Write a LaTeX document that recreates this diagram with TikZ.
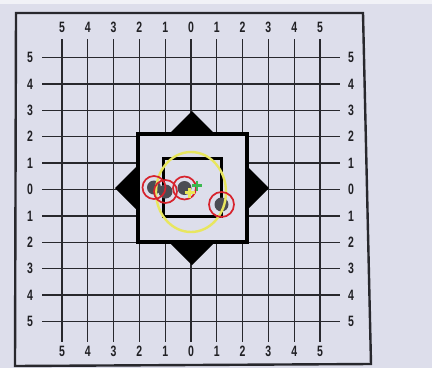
\documentclass[tikz,border=0pt]{standalone}
\usepackage{tikz}
\usepackage{fontspec}
\usetikzlibrary{calc,positioning}

\newfontfamily\numfont{Liberation Sans}
\newcommand\tnum[1]{\scalebox{0.7}[1]{\numfont\bfseries\fontsize{15}{15}\selectfont #1}}

\definecolor{paper}{RGB}{221,222,235}
\definecolor{ink}{RGB}{40,40,45}
\definecolor{shotred}{RGB}{215,35,45}
\definecolor{groupyellow}{RGB}{232,230,95}
\definecolor{aimgreen}{RGB}{60,185,80}

\begin{document}
\begin{tikzpicture}[x=1pt,y=-1pt,
    num/.style={text=ink!80!black,inner sep=0pt},
    gridline/.style={ink,line width=1.3pt},
    hole/.style={circle,fill=ink!80!paper,minimum size=14pt,inner sep=0pt},
    shot/.style={circle,draw=shotred,line width=1.7pt,minimum size=23pt,inner sep=0pt},
    cross/.style={line width=2.6pt}]
  % paper
  \fill[paper] (0,0) rectangle (432,368);
  \fill[white!60!paper] (0,0) rectangle (432,4);
  \useasboundingbox (0,0) rectangle (432,368);
  \draw[ink,line width=2.4pt] (16,13) -- (363,13) -- (371,364) -- (15,366) -- cycle;

  % grid with the numbers round it
  \foreach \i in {-5,...,5} {
    \pgfmathtruncatemacro\n{abs(\i)}
    \pgfmathsetmacro\gx{191+25.8*\i}
    \pgfmathsetmacro\gy{189.5+26.4*\i}
    \draw[gridline] (\gx,39) -- (\gx,342);
    \draw[gridline] (42,\gy) -- (340,\gy);
    \node[num] (top\i) at (\gx,27) {\tnum{\n}};
    \node[num] (bot\i) at (\gx,351) {\tnum{\n}};
    \node[num] (left\i) at (30,\gy) {\tnum{\n}};
    \node[num] (right\i) at (351,\gy) {\tnum{\n}};
  }

  % diamond behind the squares
  \coordinate (ctr) at (192,188);
  \fill[black] ($(ctr)+(0,-77)$) -- ($(ctr)+(77,0)$) -- ($(ctr)+(0,77)$) -- ($(ctr)+(-77,0)$) -- cycle;
  \filldraw[fill=paper,draw=black,line width=4pt] (138,133.5) rectangle (246.5,241.5);
  \draw[black,line width=3pt] (163,158) rectangle (221.5,216.5);

  % holes
  \node[hole] (h1) at (154,187.5) {};
  \node[hole] (h2) at (165.5,191.5) {};
  \node[hole] (h3) at (184.5,188) {};
  \node[hole] (h4) at (221.5,204.5) {};

  % group circle
  \draw[groupyellow,line width=2.4pt] (191,192) ellipse (35 and 40);

  % marked shots
  \node[shot] (s1) at (h1) {};
  \node[shot] (s2) at (h2) {};
  \node[shot] (s3) at (h3) {};
  \node[shot,minimum size=25pt] (s4) at (h4) {};

  % aim point and group centre
  \coordinate (aim) at (197,185.5);
  \coordinate (mpi) at (189.5,192.5);
  \draw[cross,aimgreen] ($(aim)+(-5,0)$) -- ($(aim)+(5,0)$) ($(aim)+(0,-5)$) -- ($(aim)+(0,5)$);
  \draw[cross,groupyellow!90!yellow] ($(mpi)+(-5,0)$) -- ($(mpi)+(5,0)$) ($(mpi)+(0,-5)$) -- ($(mpi)+(0,5)$);
\end{tikzpicture}
\end{document}
